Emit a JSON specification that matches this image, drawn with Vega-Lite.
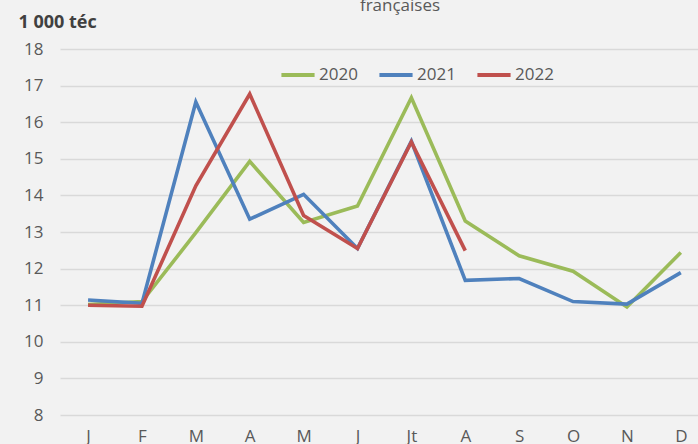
{
  "$schema": "https://vega.github.io/schema/vega-lite/v6.json",
  "width": 638,
  "height": 366,
  "autosize": {"type": "none"},
  "padding": {"left": 60, "top": 49, "right": 0, "bottom": 29},
  "background": "#f2f2f2",
  "title": {
    "text": "françaises",
    "anchor": "middle",
    "dx": 21,
    "offset": -2,
    "fontSize": 17,
    "font": "Open Sans",
    "fontWeight": "normal",
    "color": "#595959"
  },
  "config": {
    "view": {"stroke": null},
    "font": "Open Sans"
  },
  "data": {
    "values": [
      {"year": "2020", "month": 1, "value": 11.02},
      {"year": "2020", "month": 2, "value": 11.1},
      {"year": "2020", "month": 3, "value": 12.98},
      {"year": "2020", "month": 4, "value": 14.93},
      {"year": "2020", "month": 5, "value": 13.26},
      {"year": "2020", "month": 6, "value": 13.71},
      {"year": "2020", "month": 7, "value": 16.67},
      {"year": "2020", "month": 8, "value": 13.3},
      {"year": "2020", "month": 9, "value": 12.35},
      {"year": "2020", "month": 10, "value": 11.93},
      {"year": "2020", "month": 11, "value": 10.95},
      {"year": "2020", "month": 12, "value": 12.44},
      {"year": "2021", "month": 1, "value": 11.14},
      {"year": "2021", "month": 2, "value": 11.05},
      {"year": "2021", "month": 3, "value": 16.55},
      {"year": "2021", "month": 4, "value": 13.35},
      {"year": "2021", "month": 5, "value": 14.03},
      {"year": "2021", "month": 6, "value": 12.55},
      {"year": "2021", "month": 7, "value": 15.48},
      {"year": "2021", "month": 8, "value": 11.68},
      {"year": "2021", "month": 9, "value": 11.73},
      {"year": "2021", "month": 10, "value": 11.1},
      {"year": "2021", "month": 11, "value": 11.03},
      {"year": "2021", "month": 12, "value": 11.89},
      {"year": "2022", "month": 1, "value": 11.0},
      {"year": "2022", "month": 2, "value": 10.97},
      {"year": "2022", "month": 3, "value": 14.26},
      {"year": "2022", "month": 4, "value": 16.77},
      {"year": "2022", "month": 5, "value": 13.45},
      {"year": "2022", "month": 6, "value": 12.55},
      {"year": "2022", "month": 7, "value": 15.46},
      {"year": "2022", "month": 8, "value": 12.49}
    ]
  },
  "mark": {"type": "line", "strokeWidth": 3.6},
  "encoding": {
    "x": {
      "field": "month",
      "type": "ordinal",
      "scale": {"type": "point", "padding": 0.42, "align": 0.62},
      "axis": {
        "title": null,
        "labelAngle": 0,
        "ticks": false,
        "domain": false,
        "grid": false,
        "labelPadding": 13,
        "labelFontSize": 17,
        "labelColor": "#595959",
        "labelExpr": "['J','F','M','A','M','J','Jt','A','S','O','N','D'][datum.value - 1]"
      }
    },
    "y": {
      "field": "value",
      "type": "quantitative",
      "scale": {"domain": [8, 18], "nice": false, "zero": false},
      "axis": {
        "values": [8, 9, 10, 11, 12, 13, 14, 15, 16, 17, 18],
        "title": "1 000 téc",
        "titleAngle": 0,
        "titleAlign": "left",
        "titleBaseline": "alphabetic",
        "titleX": -42,
        "titleY": -22,
        "titleFontSize": 18,
        "titleFontWeight": "bold",
        "titleColor": "#404040",
        "ticks": false,
        "domain": false,
        "labelPadding": 17,
        "labelFontSize": 17,
        "labelColor": "#595959",
        "gridColor": "#d9d9d9",
        "gridWidth": 1.5
      }
    },
    "color": {
      "field": "year",
      "type": "nominal",
      "scale": {"domain": ["2020", "2021", "2022"], "range": ["#9bbb59", "#4f81bd", "#c0504d"]},
      "legend": {
        "title": null,
        "orient": "none",
        "direction": "horizontal",
        "legendX": 219,
        "legendY": 7,
        "symbolType": "stroke",
        "symbolSize": 1100,
        "symbolStrokeWidth": 4,
        "labelFontSize": 17,
        "labelColor": "#595959",
        "labelOffset": 2,
        "columnPadding": 13
      }
    }
  }
}
